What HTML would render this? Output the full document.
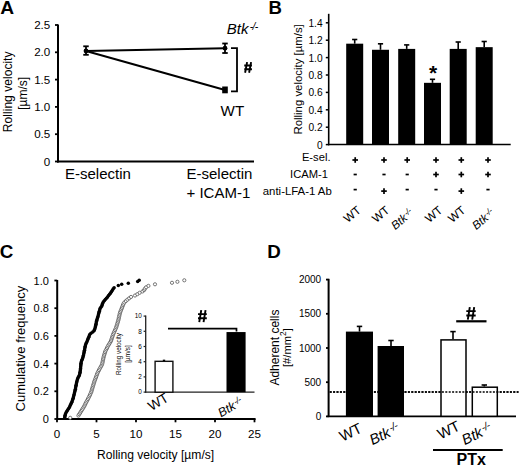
<!DOCTYPE html>
<html><head><meta charset="utf-8"><style>
html,body{margin:0;padding:0;background:#fff;}
svg{display:block;}
text{font-family:"Liberation Sans",sans-serif;fill:#000;}
</style></head><body>
<svg width="520" height="468" viewBox="0 0 520 468">
<rect width="520" height="468" fill="#fff"/>
<text x="0.2" y="14.0" font-size="19.2" text-anchor="start" font-weight="bold">A</text>
<line x1="58" y1="24.5" x2="58" y2="162.5" stroke="#000" stroke-width="2"/>
<line x1="55" y1="161.5" x2="58" y2="161.5" stroke="#000" stroke-width="1.8"/>
<text x="50.3" y="165.6" font-size="11.6" text-anchor="end">0</text>
<line x1="55" y1="134.2" x2="58" y2="134.2" stroke="#000" stroke-width="1.8"/>
<text x="50.3" y="138.29999999999998" font-size="11.6" text-anchor="end">0.5</text>
<line x1="55" y1="106.9" x2="58" y2="106.9" stroke="#000" stroke-width="1.8"/>
<text x="50.3" y="111.0" font-size="11.6" text-anchor="end">1.0</text>
<line x1="55" y1="79.6" x2="58" y2="79.6" stroke="#000" stroke-width="1.8"/>
<text x="50.3" y="83.69999999999999" font-size="11.6" text-anchor="end">1.5</text>
<line x1="55" y1="52.3" x2="58" y2="52.3" stroke="#000" stroke-width="1.8"/>
<text x="50.3" y="56.4" font-size="11.6" text-anchor="end">2.0</text>
<line x1="55" y1="25.0" x2="58" y2="25.0" stroke="#000" stroke-width="1.8"/>
<text x="50.3" y="29.1" font-size="11.6" text-anchor="end">2.5</text>
<line x1="57" y1="161.5" x2="254" y2="161.5" stroke="#000" stroke-width="2"/>
<text transform="translate(11.8,91.8) rotate(-90)" font-size="12.1" text-anchor="middle">Rolling velocity</text>
<text transform="translate(27.4,93.3) rotate(-90)" font-size="12" text-anchor="middle">[µm/s]</text>
<line x1="86" y1="51" x2="225" y2="48.2" stroke="#000" stroke-width="2"/>
<line x1="86" y1="51" x2="225" y2="90" stroke="#000" stroke-width="2"/>
<line x1="86" y1="46.3" x2="86" y2="54.8" stroke="#000" stroke-width="1.8"/>
<line x1="83.25" y1="46.3" x2="88.75" y2="46.3" stroke="#000" stroke-width="1.8"/>
<line x1="83.25" y1="54.8" x2="88.75" y2="54.8" stroke="#000" stroke-width="1.8"/>
<line x1="225" y1="43.5" x2="225" y2="53" stroke="#000" stroke-width="1.8"/>
<line x1="222.25" y1="43.5" x2="227.75" y2="43.5" stroke="#000" stroke-width="1.8"/>
<line x1="222.25" y1="53" x2="227.75" y2="53" stroke="#000" stroke-width="1.8"/>
<circle cx="86" cy="51" r="2.4" fill="#000"/>
<circle cx="225" cy="48.2" r="2.4" fill="#000"/>
<rect x="222.2" y="86.5" width="5.6" height="6.8" fill="#000"/>
<path d="M231,48.2 H237 V91.3 H231" fill="none" stroke="#000" stroke-width="1.8"/>
<path d="M247.10,62.05 L245.10,72.75 M251.10,62.05 L249.10,72.75 M244.25,65.50 H251.95 M244.25,69.30 H251.95 " stroke="#000" stroke-width="1.9" fill="none"/>
<text x="226.8" y="34.2" font-size="15" font-style="italic">Btk<tspan font-size="10.3" dx="1.3" dy="-4" letter-spacing="-0.7">-/-</tspan></text>
<text x="220.6" y="115.6" font-size="15.2" text-anchor="start">WT</text>
<text x="65" y="178.9" font-size="15" text-anchor="start">E-selectin</text>
<text x="186.5" y="178.9" font-size="15" text-anchor="start">E-selectin</text>
<text x="186.5" y="197.5" font-size="15" text-anchor="start">+ ICAM-1</text>
<text x="268.6" y="14.3" font-size="18.6" text-anchor="start" font-weight="bold">B</text>
<line x1="328.7" y1="13.8" x2="328.7" y2="145.3" stroke="#000" stroke-width="1.6"/>
<line x1="325.8" y1="144.6" x2="328.7" y2="144.6" stroke="#000" stroke-width="1.5"/>
<text x="322.6" y="148.6" font-size="10.2" text-anchor="end">0</text>
<line x1="325.8" y1="127.19999999999999" x2="328.7" y2="127.19999999999999" stroke="#000" stroke-width="1.5"/>
<text x="322.6" y="131.2" font-size="10.2" text-anchor="end">0.2</text>
<line x1="325.8" y1="109.79999999999998" x2="328.7" y2="109.79999999999998" stroke="#000" stroke-width="1.5"/>
<text x="322.6" y="113.79999999999998" font-size="10.2" text-anchor="end">0.4</text>
<line x1="325.8" y1="92.39999999999998" x2="328.7" y2="92.39999999999998" stroke="#000" stroke-width="1.5"/>
<text x="322.6" y="96.39999999999998" font-size="10.2" text-anchor="end">0.6</text>
<line x1="325.8" y1="74.99999999999999" x2="328.7" y2="74.99999999999999" stroke="#000" stroke-width="1.5"/>
<text x="322.6" y="78.99999999999999" font-size="10.2" text-anchor="end">0.8</text>
<line x1="325.8" y1="57.599999999999994" x2="328.7" y2="57.599999999999994" stroke="#000" stroke-width="1.5"/>
<text x="322.6" y="61.599999999999994" font-size="10.2" text-anchor="end">1.0</text>
<line x1="325.8" y1="40.199999999999974" x2="328.7" y2="40.199999999999974" stroke="#000" stroke-width="1.5"/>
<text x="322.6" y="44.199999999999974" font-size="10.2" text-anchor="end">1.2</text>
<line x1="325.8" y1="22.799999999999983" x2="328.7" y2="22.799999999999983" stroke="#000" stroke-width="1.5"/>
<text x="322.6" y="26.799999999999983" font-size="10.2" text-anchor="end">1.4</text>
<line x1="328" y1="144.5" x2="510.7" y2="144.5" stroke="#000" stroke-width="1.6"/>
<text transform="translate(301.8,79.4) rotate(-90)" font-size="11.4" text-anchor="middle">Rolling velocity [µm/s]</text>
<rect x="346.2" y="43.68000000000001" width="17" height="100.91999999999999" fill="#000"/>
<line x1="354.7" y1="39.5" x2="354.7" y2="43.68000000000001" stroke="#000" stroke-width="1.6"/>
<line x1="352.09999999999997" y1="39.5" x2="357.3" y2="39.5" stroke="#000" stroke-width="1.6"/>
<rect x="372" y="49.76999999999998" width="17" height="94.83000000000001" fill="#000"/>
<line x1="380.5" y1="43.8" x2="380.5" y2="49.76999999999998" stroke="#000" stroke-width="1.6"/>
<line x1="377.9" y1="43.8" x2="383.1" y2="43.8" stroke="#000" stroke-width="1.6"/>
<rect x="398.2" y="48.89999999999999" width="17" height="95.7" fill="#000"/>
<line x1="406.7" y1="44.9" x2="406.7" y2="48.89999999999999" stroke="#000" stroke-width="1.6"/>
<line x1="404.09999999999997" y1="44.9" x2="409.3" y2="44.9" stroke="#000" stroke-width="1.6"/>
<rect x="424" y="82.83" width="17" height="61.769999999999996" fill="#000"/>
<line x1="432.5" y1="79.3" x2="432.5" y2="82.83" stroke="#000" stroke-width="1.6"/>
<line x1="429.9" y1="79.3" x2="435.1" y2="79.3" stroke="#000" stroke-width="1.6"/>
<rect x="449.7" y="48.89999999999999" width="17" height="95.7" fill="#000"/>
<line x1="458.2" y1="42" x2="458.2" y2="48.89999999999999" stroke="#000" stroke-width="1.6"/>
<line x1="455.59999999999997" y1="42" x2="460.8" y2="42" stroke="#000" stroke-width="1.6"/>
<rect x="475.7" y="47.15999999999998" width="17" height="97.44000000000001" fill="#000"/>
<line x1="484.2" y1="41.5" x2="484.2" y2="47.15999999999998" stroke="#000" stroke-width="1.6"/>
<line x1="481.59999999999997" y1="41.5" x2="486.8" y2="41.5" stroke="#000" stroke-width="1.6"/>
<text x="433" y="79.8" font-size="21" text-anchor="middle" font-weight="bold">*</text>
<text x="330.5" y="161.2" font-size="11.2" text-anchor="end">E-sel.</text>
<text x="328" y="178" font-size="11.2" text-anchor="end">ICAM-1</text>
<text x="331.8" y="195" font-size="11.4" text-anchor="end">anti-LFA-1 Ab</text>
<line x1="352.4" y1="160" x2="358.0" y2="160" stroke="#000" stroke-width="1.7"/>
<line x1="355.2" y1="157.2" x2="355.2" y2="162.8" stroke="#000" stroke-width="1.7"/>
<line x1="381.2" y1="160" x2="386.8" y2="160" stroke="#000" stroke-width="1.7"/>
<line x1="384" y1="157.2" x2="384" y2="162.8" stroke="#000" stroke-width="1.7"/>
<line x1="404.4" y1="160" x2="410.0" y2="160" stroke="#000" stroke-width="1.7"/>
<line x1="407.2" y1="157.2" x2="407.2" y2="162.8" stroke="#000" stroke-width="1.7"/>
<line x1="433.2" y1="160" x2="438.8" y2="160" stroke="#000" stroke-width="1.7"/>
<line x1="436" y1="157.2" x2="436" y2="162.8" stroke="#000" stroke-width="1.7"/>
<line x1="458.5" y1="160" x2="464.1" y2="160" stroke="#000" stroke-width="1.7"/>
<line x1="461.3" y1="157.2" x2="461.3" y2="162.8" stroke="#000" stroke-width="1.7"/>
<line x1="485.2" y1="160" x2="490.8" y2="160" stroke="#000" stroke-width="1.7"/>
<line x1="488" y1="157.2" x2="488" y2="162.8" stroke="#000" stroke-width="1.7"/>
<line x1="353.59999999999997" y1="174.5" x2="356.8" y2="174.5" stroke="#000" stroke-width="1.7"/>
<line x1="382.4" y1="174.5" x2="385.6" y2="174.5" stroke="#000" stroke-width="1.7"/>
<line x1="405.59999999999997" y1="174.5" x2="408.8" y2="174.5" stroke="#000" stroke-width="1.7"/>
<line x1="433.2" y1="174.5" x2="438.8" y2="174.5" stroke="#000" stroke-width="1.7"/>
<line x1="436" y1="171.7" x2="436" y2="177.3" stroke="#000" stroke-width="1.7"/>
<line x1="458.5" y1="174.5" x2="464.1" y2="174.5" stroke="#000" stroke-width="1.7"/>
<line x1="461.3" y1="171.7" x2="461.3" y2="177.3" stroke="#000" stroke-width="1.7"/>
<line x1="485.2" y1="174.5" x2="490.8" y2="174.5" stroke="#000" stroke-width="1.7"/>
<line x1="488" y1="171.7" x2="488" y2="177.3" stroke="#000" stroke-width="1.7"/>
<line x1="353.59999999999997" y1="189.6" x2="356.8" y2="189.6" stroke="#000" stroke-width="1.7"/>
<line x1="381.2" y1="191.1" x2="386.8" y2="191.1" stroke="#000" stroke-width="1.7"/>
<line x1="384" y1="188.29999999999998" x2="384" y2="193.9" stroke="#000" stroke-width="1.7"/>
<line x1="405.59999999999997" y1="189.6" x2="408.8" y2="189.6" stroke="#000" stroke-width="1.7"/>
<line x1="434.4" y1="189.6" x2="437.6" y2="189.6" stroke="#000" stroke-width="1.7"/>
<line x1="458.5" y1="191.1" x2="464.1" y2="191.1" stroke="#000" stroke-width="1.7"/>
<line x1="461.3" y1="188.29999999999998" x2="461.3" y2="193.9" stroke="#000" stroke-width="1.7"/>
<line x1="486.4" y1="189.6" x2="489.6" y2="189.6" stroke="#000" stroke-width="1.7"/>
<text transform="translate(347.8,223.3) rotate(-40)" font-size="11.8">WT</text>
<text transform="translate(376.3,223.3) rotate(-40)" font-size="11.8">WT</text>
<text transform="translate(429.3,223.3) rotate(-40)" font-size="11.8">WT</text>
<text transform="translate(452.3,223.3) rotate(-40)" font-size="11.8">WT</text>
<text transform="translate(395.2,230.2) rotate(-40)" font-size="11.8"><tspan font-style="italic">Btk</tspan><tspan font-style="italic" font-size="8.5" dx="0.9" dy="-3.3" letter-spacing="-0.53">-/-</tspan></text>
<text transform="translate(476.2,230.2) rotate(-40)" font-size="11.8"><tspan font-style="italic">Btk</tspan><tspan font-style="italic" font-size="8.5" dx="0.9" dy="-3.3" letter-spacing="-0.53">-/-</tspan></text>
<text x="-0.2" y="258.1" font-size="18.8" text-anchor="start" font-weight="bold">C</text>
<line x1="57.2" y1="280" x2="57.2" y2="420" stroke="#000" stroke-width="2"/>
<line x1="54.4" y1="419.0" x2="57.2" y2="419.0" stroke="#000" stroke-width="1.8"/>
<text x="48.9" y="423.0" font-size="11" text-anchor="end">0</text>
<line x1="54.4" y1="391.3" x2="57.2" y2="391.3" stroke="#000" stroke-width="1.8"/>
<text x="48.9" y="395.3" font-size="11" text-anchor="end">0.2</text>
<line x1="54.4" y1="363.6" x2="57.2" y2="363.6" stroke="#000" stroke-width="1.8"/>
<text x="48.9" y="367.6" font-size="11" text-anchor="end">0.4</text>
<line x1="54.4" y1="335.9" x2="57.2" y2="335.9" stroke="#000" stroke-width="1.8"/>
<text x="48.9" y="339.9" font-size="11" text-anchor="end">0.6</text>
<line x1="54.4" y1="308.2" x2="57.2" y2="308.2" stroke="#000" stroke-width="1.8"/>
<text x="48.9" y="312.2" font-size="11" text-anchor="end">0.8</text>
<line x1="54.4" y1="280.5" x2="57.2" y2="280.5" stroke="#000" stroke-width="1.8"/>
<text x="48.9" y="284.5" font-size="11" text-anchor="end">1.0</text>
<line x1="56" y1="419" x2="255.6" y2="419" stroke="#000" stroke-width="2"/>
<line x1="57.0" y1="419" x2="57.0" y2="422.3" stroke="#000" stroke-width="1.8"/>
<text x="57.0" y="438.4" font-size="11.6" text-anchor="middle">0</text>
<line x1="96.5" y1="419" x2="96.5" y2="422.3" stroke="#000" stroke-width="1.8"/>
<text x="96.5" y="438.4" font-size="11.6" text-anchor="middle">5</text>
<line x1="136.0" y1="419" x2="136.0" y2="422.3" stroke="#000" stroke-width="1.8"/>
<text x="136.0" y="438.4" font-size="11.6" text-anchor="middle">10</text>
<line x1="175.5" y1="419" x2="175.5" y2="422.3" stroke="#000" stroke-width="1.8"/>
<text x="175.5" y="438.4" font-size="11.6" text-anchor="middle">15</text>
<line x1="215.0" y1="419" x2="215.0" y2="422.3" stroke="#000" stroke-width="1.8"/>
<text x="215.0" y="438.4" font-size="11.6" text-anchor="middle">20</text>
<line x1="254.5" y1="419" x2="254.5" y2="422.3" stroke="#000" stroke-width="1.8"/>
<text x="254.5" y="438.4" font-size="11.6" text-anchor="middle">25</text>
<text x="155.6" y="458.7" font-size="12.1" text-anchor="middle">Rolling velocity [µm/s]</text>
<text transform="translate(24.9,348.6) rotate(-90)" font-size="13" text-anchor="middle">Cumulative frequency</text>
<circle cx="64.70" cy="417.80" r="1.75" fill="#000"/>
<circle cx="64.89" cy="416.50" r="1.75" fill="#000"/>
<circle cx="65.08" cy="415.20" r="1.75" fill="#000"/>
<circle cx="65.46" cy="413.90" r="1.75" fill="#000"/>
<circle cx="66.13" cy="412.60" r="1.75" fill="#000"/>
<circle cx="66.80" cy="411.30" r="1.75" fill="#000"/>
<circle cx="67.63" cy="410.00" r="1.75" fill="#000"/>
<circle cx="68.50" cy="408.70" r="1.75" fill="#000"/>
<circle cx="69.30" cy="407.40" r="1.75" fill="#000"/>
<circle cx="69.93" cy="406.10" r="1.75" fill="#000"/>
<circle cx="70.57" cy="404.80" r="1.75" fill="#000"/>
<circle cx="71.20" cy="403.50" r="1.75" fill="#000"/>
<circle cx="71.73" cy="402.20" r="1.75" fill="#000"/>
<circle cx="72.23" cy="400.90" r="1.75" fill="#000"/>
<circle cx="72.73" cy="399.60" r="1.75" fill="#000"/>
<circle cx="73.15" cy="398.30" r="1.75" fill="#000"/>
<circle cx="73.46" cy="397.00" r="1.75" fill="#000"/>
<circle cx="73.78" cy="395.70" r="1.75" fill="#000"/>
<circle cx="74.10" cy="394.40" r="1.75" fill="#000"/>
<circle cx="74.43" cy="393.10" r="1.75" fill="#000"/>
<circle cx="74.75" cy="391.80" r="1.75" fill="#000"/>
<circle cx="75.08" cy="390.50" r="1.75" fill="#000"/>
<circle cx="75.35" cy="389.20" r="1.75" fill="#000"/>
<circle cx="75.58" cy="387.90" r="1.75" fill="#000"/>
<circle cx="75.82" cy="386.60" r="1.75" fill="#000"/>
<circle cx="76.06" cy="385.30" r="1.75" fill="#000"/>
<circle cx="76.32" cy="384.00" r="1.75" fill="#000"/>
<circle cx="76.58" cy="382.70" r="1.75" fill="#000"/>
<circle cx="76.84" cy="381.40" r="1.75" fill="#000"/>
<circle cx="77.23" cy="380.10" r="1.75" fill="#000"/>
<circle cx="77.67" cy="378.80" r="1.75" fill="#000"/>
<circle cx="78.15" cy="377.50" r="1.75" fill="#000"/>
<circle cx="78.80" cy="376.20" r="1.75" fill="#000"/>
<circle cx="79.45" cy="374.90" r="1.75" fill="#000"/>
<circle cx="79.83" cy="373.60" r="1.75" fill="#000"/>
<circle cx="80.03" cy="372.30" r="1.75" fill="#000"/>
<circle cx="80.24" cy="371.00" r="1.75" fill="#000"/>
<circle cx="80.43" cy="369.70" r="1.75" fill="#000"/>
<circle cx="80.54" cy="368.40" r="1.75" fill="#000"/>
<circle cx="80.66" cy="367.10" r="1.75" fill="#000"/>
<circle cx="80.78" cy="365.80" r="1.75" fill="#000"/>
<circle cx="80.89" cy="364.50" r="1.75" fill="#000"/>
<circle cx="81.01" cy="363.20" r="1.75" fill="#000"/>
<circle cx="81.22" cy="361.90" r="1.75" fill="#000"/>
<circle cx="81.72" cy="360.60" r="1.75" fill="#000"/>
<circle cx="82.22" cy="359.30" r="1.75" fill="#000"/>
<circle cx="82.72" cy="358.00" r="1.75" fill="#000"/>
<circle cx="83.07" cy="356.70" r="1.75" fill="#000"/>
<circle cx="83.39" cy="355.40" r="1.75" fill="#000"/>
<circle cx="83.70" cy="354.10" r="1.75" fill="#000"/>
<circle cx="83.99" cy="352.80" r="1.75" fill="#000"/>
<circle cx="84.23" cy="351.50" r="1.75" fill="#000"/>
<circle cx="84.46" cy="350.20" r="1.75" fill="#000"/>
<circle cx="84.70" cy="348.90" r="1.75" fill="#000"/>
<circle cx="84.96" cy="347.60" r="1.75" fill="#000"/>
<circle cx="85.22" cy="346.30" r="1.75" fill="#000"/>
<circle cx="85.48" cy="345.00" r="1.75" fill="#000"/>
<circle cx="85.94" cy="343.70" r="1.75" fill="#000"/>
<circle cx="86.57" cy="342.40" r="1.75" fill="#000"/>
<circle cx="87.20" cy="341.10" r="1.75" fill="#000"/>
<circle cx="87.70" cy="339.80" r="1.75" fill="#000"/>
<circle cx="88.20" cy="338.50" r="1.75" fill="#000"/>
<circle cx="88.71" cy="337.20" r="1.75" fill="#000"/>
<circle cx="89.21" cy="335.90" r="1.75" fill="#000"/>
<circle cx="89.73" cy="334.60" r="1.75" fill="#000"/>
<circle cx="90.93" cy="333.30" r="1.75" fill="#000"/>
<circle cx="92.74" cy="332.00" r="1.75" fill="#000"/>
<circle cx="94.06" cy="330.70" r="1.75" fill="#000"/>
<circle cx="94.57" cy="329.40" r="1.75" fill="#000"/>
<circle cx="95.08" cy="328.10" r="1.75" fill="#000"/>
<circle cx="95.41" cy="326.80" r="1.75" fill="#000"/>
<circle cx="95.67" cy="325.50" r="1.75" fill="#000"/>
<circle cx="95.94" cy="324.20" r="1.75" fill="#000"/>
<circle cx="96.21" cy="322.90" r="1.75" fill="#000"/>
<circle cx="96.47" cy="321.60" r="1.75" fill="#000"/>
<circle cx="96.74" cy="320.30" r="1.75" fill="#000"/>
<circle cx="97.14" cy="319.00" r="1.75" fill="#000"/>
<circle cx="97.59" cy="317.70" r="1.75" fill="#000"/>
<circle cx="97.98" cy="316.40" r="1.75" fill="#000"/>
<circle cx="98.31" cy="315.10" r="1.75" fill="#000"/>
<circle cx="98.64" cy="313.80" r="1.75" fill="#000"/>
<circle cx="98.97" cy="312.50" r="1.75" fill="#000"/>
<circle cx="99.32" cy="311.20" r="1.75" fill="#000"/>
<circle cx="99.70" cy="309.90" r="1.75" fill="#000"/>
<circle cx="100.08" cy="308.60" r="1.75" fill="#000"/>
<circle cx="100.85" cy="307.30" r="1.75" fill="#000"/>
<circle cx="101.80" cy="306.00" r="1.75" fill="#000"/>
<circle cx="102.19" cy="304.70" r="1.75" fill="#000"/>
<circle cx="102.59" cy="303.40" r="1.75" fill="#000"/>
<circle cx="103.28" cy="302.10" r="1.75" fill="#000"/>
<circle cx="104.31" cy="300.80" r="1.75" fill="#000"/>
<circle cx="105.34" cy="299.50" r="1.75" fill="#000"/>
<circle cx="106.43" cy="298.20" r="1.75" fill="#000"/>
<circle cx="107.54" cy="296.90" r="1.75" fill="#000"/>
<circle cx="108.60" cy="295.60" r="1.75" fill="#000"/>
<circle cx="109.59" cy="294.30" r="1.75" fill="#000"/>
<circle cx="110.57" cy="293.00" r="1.75" fill="#000"/>
<circle cx="111.43" cy="291.70" r="1.75" fill="#000"/>
<circle cx="112.24" cy="290.40" r="1.75" fill="#000"/>
<circle cx="113.11" cy="289.10" r="1.75" fill="#000"/>
<circle cx="114.11" cy="287.80" r="1.75" fill="#000"/>
<circle cx="118.30" cy="285.60" r="1.75" fill="#000"/>
<circle cx="121.70" cy="284.30" r="1.75" fill="#000"/>
<circle cx="128.30" cy="283.20" r="1.75" fill="#000"/>
<circle cx="137.70" cy="281.50" r="1.75" fill="#000"/>
<circle cx="139.20" cy="280.30" r="1.75" fill="#000"/>
<g fill="#fff" stroke="#555" stroke-width="0.8"><circle cx="70.20" cy="417.80" r="1.6"/><circle cx="78.40" cy="415.60" r="1.6"/><circle cx="79.26" cy="414.22" r="1.6"/><circle cx="80.12" cy="412.84" r="1.6"/><circle cx="80.98" cy="411.46" r="1.6"/><circle cx="81.85" cy="410.08" r="1.6"/><circle cx="82.73" cy="408.70" r="1.6"/><circle cx="83.61" cy="407.32" r="1.6"/><circle cx="84.37" cy="405.94" r="1.6"/><circle cx="85.05" cy="404.56" r="1.6"/><circle cx="85.72" cy="403.18" r="1.6"/><circle cx="86.42" cy="401.80" r="1.6"/><circle cx="87.17" cy="400.42" r="1.6"/><circle cx="87.92" cy="399.04" r="1.6"/><circle cx="88.66" cy="397.66" r="1.6"/><circle cx="89.31" cy="396.28" r="1.6"/><circle cx="89.95" cy="394.90" r="1.6"/><circle cx="90.59" cy="393.52" r="1.6"/><circle cx="91.22" cy="392.14" r="1.6"/><circle cx="91.62" cy="390.76" r="1.6"/><circle cx="92.02" cy="389.38" r="1.6"/><circle cx="92.42" cy="388.00" r="1.6"/><circle cx="92.82" cy="386.62" r="1.6"/><circle cx="93.24" cy="385.24" r="1.6"/><circle cx="93.66" cy="383.86" r="1.6"/><circle cx="94.08" cy="382.48" r="1.6"/><circle cx="94.50" cy="381.10" r="1.6"/><circle cx="95.03" cy="379.72" r="1.6"/><circle cx="95.57" cy="378.34" r="1.6"/><circle cx="96.10" cy="376.96" r="1.6"/><circle cx="96.60" cy="375.58" r="1.6"/><circle cx="97.09" cy="374.20" r="1.6"/><circle cx="97.58" cy="372.82" r="1.6"/><circle cx="98.22" cy="371.44" r="1.6"/><circle cx="98.98" cy="370.06" r="1.6"/><circle cx="99.74" cy="368.68" r="1.6"/><circle cx="100.50" cy="367.30" r="1.6"/><circle cx="101.26" cy="365.92" r="1.6"/><circle cx="102.02" cy="364.54" r="1.6"/><circle cx="102.36" cy="363.16" r="1.6"/><circle cx="102.64" cy="361.78" r="1.6"/><circle cx="102.93" cy="360.40" r="1.6"/><circle cx="103.22" cy="359.02" r="1.6"/><circle cx="103.50" cy="357.64" r="1.6"/><circle cx="103.83" cy="356.26" r="1.6"/><circle cx="104.25" cy="354.88" r="1.6"/><circle cx="104.67" cy="353.50" r="1.6"/><circle cx="105.09" cy="352.12" r="1.6"/><circle cx="105.58" cy="350.74" r="1.6"/><circle cx="106.29" cy="349.36" r="1.6"/><circle cx="106.99" cy="347.98" r="1.6"/><circle cx="107.69" cy="346.60" r="1.6"/><circle cx="108.43" cy="345.22" r="1.6"/><circle cx="109.26" cy="343.84" r="1.6"/><circle cx="110.08" cy="342.46" r="1.6"/><circle cx="110.91" cy="341.08" r="1.6"/><circle cx="111.37" cy="339.70" r="1.6"/><circle cx="111.83" cy="338.32" r="1.6"/><circle cx="112.29" cy="336.94" r="1.6"/><circle cx="112.75" cy="335.56" r="1.6"/><circle cx="113.21" cy="334.18" r="1.6"/><circle cx="113.83" cy="332.80" r="1.6"/><circle cx="114.46" cy="331.42" r="1.6"/><circle cx="115.08" cy="330.04" r="1.6"/><circle cx="115.70" cy="328.66" r="1.6"/><circle cx="116.22" cy="327.28" r="1.6"/><circle cx="116.64" cy="325.90" r="1.6"/><circle cx="117.05" cy="324.52" r="1.6"/><circle cx="117.47" cy="323.14" r="1.6"/><circle cx="117.89" cy="321.76" r="1.6"/><circle cx="118.30" cy="320.38" r="1.6"/><circle cx="118.61" cy="319.00" r="1.6"/><circle cx="118.91" cy="317.62" r="1.6"/><circle cx="119.22" cy="316.24" r="1.6"/><circle cx="119.52" cy="314.86" r="1.6"/><circle cx="119.83" cy="313.48" r="1.6"/><circle cx="120.24" cy="312.10" r="1.6"/><circle cx="120.78" cy="310.72" r="1.6"/><circle cx="121.32" cy="309.34" r="1.6"/><circle cx="121.86" cy="307.96" r="1.6"/><circle cx="122.40" cy="306.58" r="1.6"/><circle cx="122.94" cy="305.20" r="1.6"/><circle cx="123.48" cy="303.82" r="1.6"/><circle cx="124.40" cy="302.44" r="1.6"/><circle cx="125.87" cy="301.06" r="1.6"/><circle cx="127.41" cy="299.68" r="1.6"/><circle cx="129.15" cy="298.30" r="1.6"/><circle cx="131.03" cy="296.92" r="1.6"/><circle cx="135.00" cy="295.54" r="1.6"/><circle cx="137.36" cy="294.16" r="1.6"/><circle cx="139.66" cy="292.78" r="1.6"/><circle cx="142.55" cy="291.40" r="1.6"/><circle cx="144.20" cy="290.02" r="1.6"/><circle cx="144.91" cy="288.64" r="1.6"/><circle cx="146.13" cy="287.26" r="1.6"/><circle cx="148.41" cy="285.88" r="1.6"/><circle cx="155.00" cy="284.30" r="1.6"/><circle cx="172.00" cy="282.80" r="1.6"/><circle cx="177.40" cy="281.80" r="1.6"/><circle cx="184.30" cy="280.30" r="1.6"/></g>
<line x1="145.7" y1="315.5" x2="145.7" y2="392.8" stroke="#222" stroke-width="1.3"/>
<line x1="143.6" y1="392.1" x2="145.7" y2="392.1" stroke="#222" stroke-width="1.2"/>
<text x="141.8" y="394.3" font-size="6.4" text-anchor="end">0</text>
<line x1="143.6" y1="376.90000000000003" x2="145.7" y2="376.90000000000003" stroke="#222" stroke-width="1.2"/>
<text x="141.8" y="379.1" font-size="6.4" text-anchor="end">2</text>
<line x1="143.6" y1="361.70000000000005" x2="145.7" y2="361.70000000000005" stroke="#222" stroke-width="1.2"/>
<text x="141.8" y="363.90000000000003" font-size="6.4" text-anchor="end">4</text>
<line x1="143.6" y1="346.5" x2="145.7" y2="346.5" stroke="#222" stroke-width="1.2"/>
<text x="141.8" y="348.7" font-size="6.4" text-anchor="end">6</text>
<line x1="143.6" y1="331.3" x2="145.7" y2="331.3" stroke="#222" stroke-width="1.2"/>
<text x="141.8" y="333.5" font-size="6.4" text-anchor="end">8</text>
<line x1="143.6" y1="316.1" x2="145.7" y2="316.1" stroke="#222" stroke-width="1.2"/>
<text x="141.8" y="318.3" font-size="6.4" text-anchor="end">10</text>
<line x1="145" y1="392.2" x2="254.5" y2="392.2" stroke="#222" stroke-width="1.3"/>
<rect x="155.1" y="361.32000000000005" width="17.8" height="30.87999999999994" fill="#fff" stroke="#111" stroke-width="1.4"/>
<line x1="164" y1="360.3" x2="164" y2="361.32000000000005" stroke="#000" stroke-width="1.2"/>
<line x1="162.8" y1="360.3" x2="165.2" y2="360.3" stroke="#000" stroke-width="1.3"/>
<rect x="226.5" y="332.06" width="19.1" height="60.139999999999986" fill="#000"/>
<path d="M168,328.7 H236.5 V331.5" fill="none" stroke="#000" stroke-width="1.7"/>
<path d="M201.25,310.20 L199.25,322.20 M205.55,310.20 L203.55,322.20 M198.00,314.15 H206.80 M198.00,318.25 H206.80 " stroke="#000" stroke-width="1.9" fill="none"/>
<text transform="translate(121.3,354) rotate(-90)" font-size="6.3" text-anchor="middle">Rolling velocity</text>
<text transform="translate(129.8,354) rotate(-90)" font-size="6.3" text-anchor="middle">[µm/s]</text>
<text transform="translate(151.5,411.3) rotate(-31)" font-size="13.6">WT</text>
<text transform="translate(221,417.5) rotate(-30)" font-size="12.5"><tspan font-style="italic">Btk</tspan><tspan font-style="italic" font-size="9.0" dx="1.0" dy="-3.5" letter-spacing="-0.56">-/-</tspan></text>
<text x="267.2" y="258.4" font-size="18.8" text-anchor="start" font-weight="bold">D</text>
<line x1="328.6" y1="278.8" x2="328.6" y2="417" stroke="#000" stroke-width="2"/>
<line x1="326" y1="416.4" x2="328.6" y2="416.4" stroke="#000" stroke-width="1.8"/>
<text x="321.2" y="420.0" font-size="10" text-anchor="end">0</text>
<line x1="326" y1="382.2" x2="328.6" y2="382.2" stroke="#000" stroke-width="1.8"/>
<text x="321.2" y="385.8" font-size="10" text-anchor="end">500</text>
<line x1="326" y1="348.0" x2="328.6" y2="348.0" stroke="#000" stroke-width="1.8"/>
<text x="321.2" y="351.6" font-size="10" text-anchor="end">1000</text>
<line x1="326" y1="313.79999999999995" x2="328.6" y2="313.79999999999995" stroke="#000" stroke-width="1.8"/>
<text x="321.2" y="317.4" font-size="10" text-anchor="end">1500</text>
<line x1="326" y1="279.59999999999997" x2="328.6" y2="279.59999999999997" stroke="#000" stroke-width="1.8"/>
<text x="321.2" y="283.2" font-size="10" text-anchor="end">2000</text>
<line x1="329.7" y1="392" x2="518.5" y2="392" stroke="#000" stroke-width="1.6" stroke-dasharray="2 1.4"/>
<line x1="327.6" y1="416.3" x2="516" y2="416.3" stroke="#000" stroke-width="1.8"/>
<rect x="345.9" y="331.6" width="27.1" height="84.69999999999999" fill="#000"/>
<rect x="377.6" y="346" width="26.4" height="70.30000000000001" fill="#000"/>
<rect x="441" y="339.9" width="25" height="76.40000000000003" fill="#fff" stroke="#000" stroke-width="1.5"/>
<rect x="472.3" y="387.2" width="25" height="29.100000000000023" fill="#fff" stroke="#000" stroke-width="1.5"/>
<line x1="329.7" y1="392" x2="518.5" y2="392" stroke="#000" stroke-width="1.6" stroke-dasharray="2 1.4"/>
<line x1="359.5" y1="326.4" x2="359.5" y2="331.6" stroke="#000" stroke-width="1.6"/>
<line x1="356.8" y1="326.4" x2="362.2" y2="326.4" stroke="#000" stroke-width="1.6"/>
<line x1="391" y1="340.5" x2="391" y2="346" stroke="#000" stroke-width="1.6"/>
<line x1="388.3" y1="340.5" x2="393.7" y2="340.5" stroke="#000" stroke-width="1.6"/>
<line x1="453" y1="331.6" x2="453" y2="339.2" stroke="#000" stroke-width="1.6"/>
<line x1="450.3" y1="331.6" x2="455.7" y2="331.6" stroke="#000" stroke-width="1.6"/>
<line x1="484.3" y1="385" x2="484.3" y2="386.5" stroke="#000" stroke-width="1.6"/>
<line x1="481.6" y1="385" x2="487.0" y2="385" stroke="#000" stroke-width="1.6"/>
<line x1="456.2" y1="321.3" x2="486.5" y2="321.3" stroke="#000" stroke-width="2.2"/>
<path d="M469.80,307.05 L467.80,319.55 M474.20,307.05 L472.20,319.55 M466.30,311.15 H475.70 M466.30,315.45 H475.70 " stroke="#000" stroke-width="1.9" fill="none"/>
<text transform="translate(342.5,441.8) rotate(-26)" font-size="14.8">WT</text>
<text transform="translate(372.5,445.3) rotate(-26)" font-size="14.8"><tspan font-style="italic">Btk</tspan><tspan font-style="italic" font-size="10.7" dx="1.2" dy="-4.1" letter-spacing="-0.67">-/-</tspan></text>
<text transform="translate(440.5,439.5) rotate(-26)" font-size="14.8">WT</text>
<text transform="translate(464.8,445.2) rotate(-26)" font-size="14.8"><tspan font-style="italic">Btk</tspan><tspan font-style="italic" font-size="10.7" dx="1.2" dy="-4.1" letter-spacing="-0.67">-/-</tspan></text>
<line x1="433" y1="450" x2="502.7" y2="450" stroke="#000" stroke-width="2"/>
<text x="471.2" y="465.4" font-size="16" text-anchor="middle" font-weight="bold">PTx</text>
<text transform="translate(278.9,347.6) rotate(-90)" font-size="12" text-anchor="middle">Adherent cells</text>
<text transform="translate(290.8,347.6) rotate(-90)" font-size="11.2" text-anchor="middle">[#/mm<tspan font-size="8.3" dy="-4.6">2</tspan><tspan dy="4.6">]</tspan></text>
</svg>
</body></html>
